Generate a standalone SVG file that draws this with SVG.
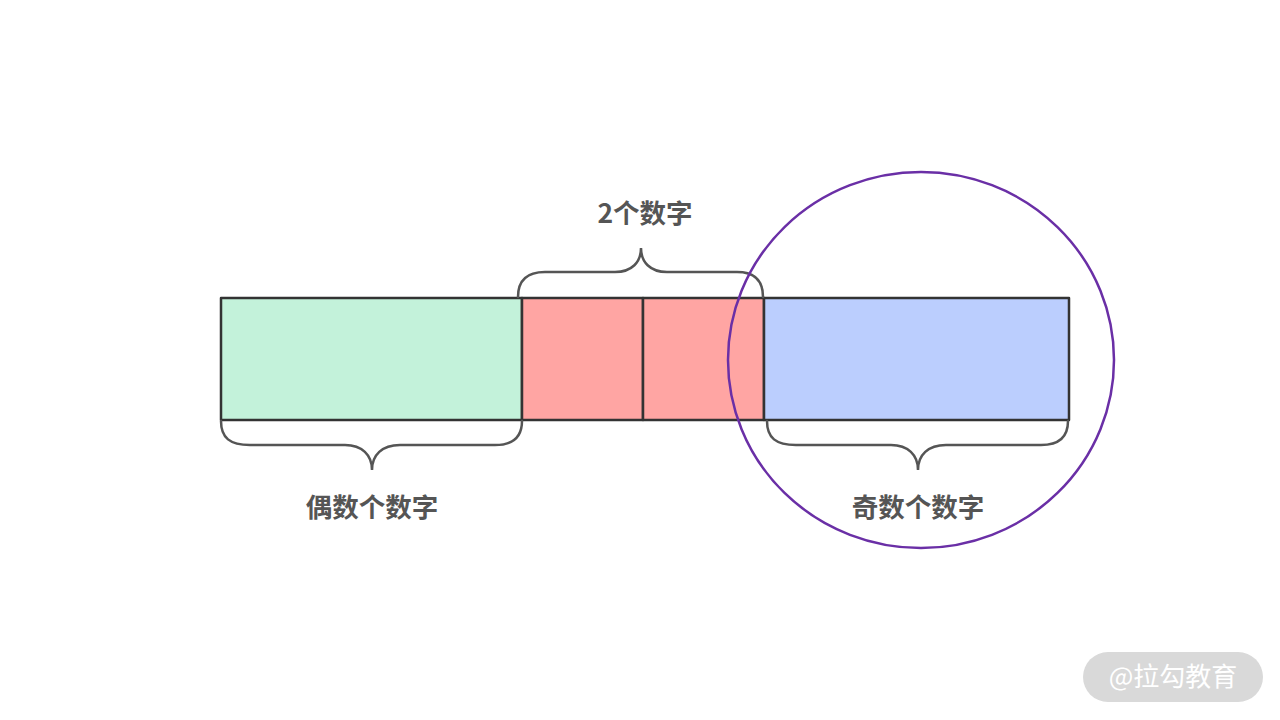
<svg xmlns="http://www.w3.org/2000/svg" width="1280" height="720" viewBox="0 0 1280 720">
<style>
.box{stroke:#333;stroke-width:2.5;stroke-linejoin:round}
.brace{fill:none;stroke:#555;stroke-width:2.5;stroke-linecap:round}
.lbl{font-family:"Noto Sans CJK SC","Noto Sans",sans-serif;font-size:26.5px;font-weight:bold;fill:#555;text-anchor:middle}
</style>
<rect width="1280" height="720" fill="#fff"/>
<g id="even"><rect class="box" x="221" y="298" width="301" height="122" fill="#c3f2da"/></g>
<g id="mid1"><rect class="box" x="522" y="298" width="121" height="122" fill="#ffa5a3"/></g>
<g id="mid2"><rect class="box" x="643" y="298" width="121" height="122" fill="#ffa5a3"/></g>
<g id="odd"><rect class="box" x="764" y="298" width="305" height="122" fill="#bbcefe"/></g>
<g id="connectors">
<path class="brace" d="M518,297 C518,280 528,272 545,272 L615,272 C632,272 641,262 641,248 C641,262 650,272 667,272 L737,272 C754,272 763,280 763,297"/>
<path class="brace" d="M221,421 C221,438 230,445 250,445 L345,445 C362,445 372,455 372,470 C372,455 382,445 400,445 L495,445 C512,445 522,438 522,421"/>
<path class="brace" d="M767,421 C767,438 776,445 796,445 L891,445 C908,445 918,455 918,470 C918,455 928,445 946,445 L1041,445 C1058,445 1068,438 1068,421"/>
</g>
<g id="circle"><ellipse cx="921" cy="360" rx="193" ry="188" fill="none" stroke="#6a2fa6" stroke-width="2.5"/></g>
<g id="labels">
<text class="lbl" x="645" y="223">2个数字</text>
<text class="lbl" x="372" y="517">偶数个数字</text>
<text class="lbl" x="918" y="517">奇数个数字</text>
</g>
<g id="watermark">
<rect x="1083" y="652" width="180" height="50" rx="25" fill="#d9d9d9"/>
<text x="1173" y="686" font-family="Noto Sans CJK SC,sans-serif" font-size="26" fill="#fff" text-anchor="middle">@拉勾教育</text>
</g>
</svg>
